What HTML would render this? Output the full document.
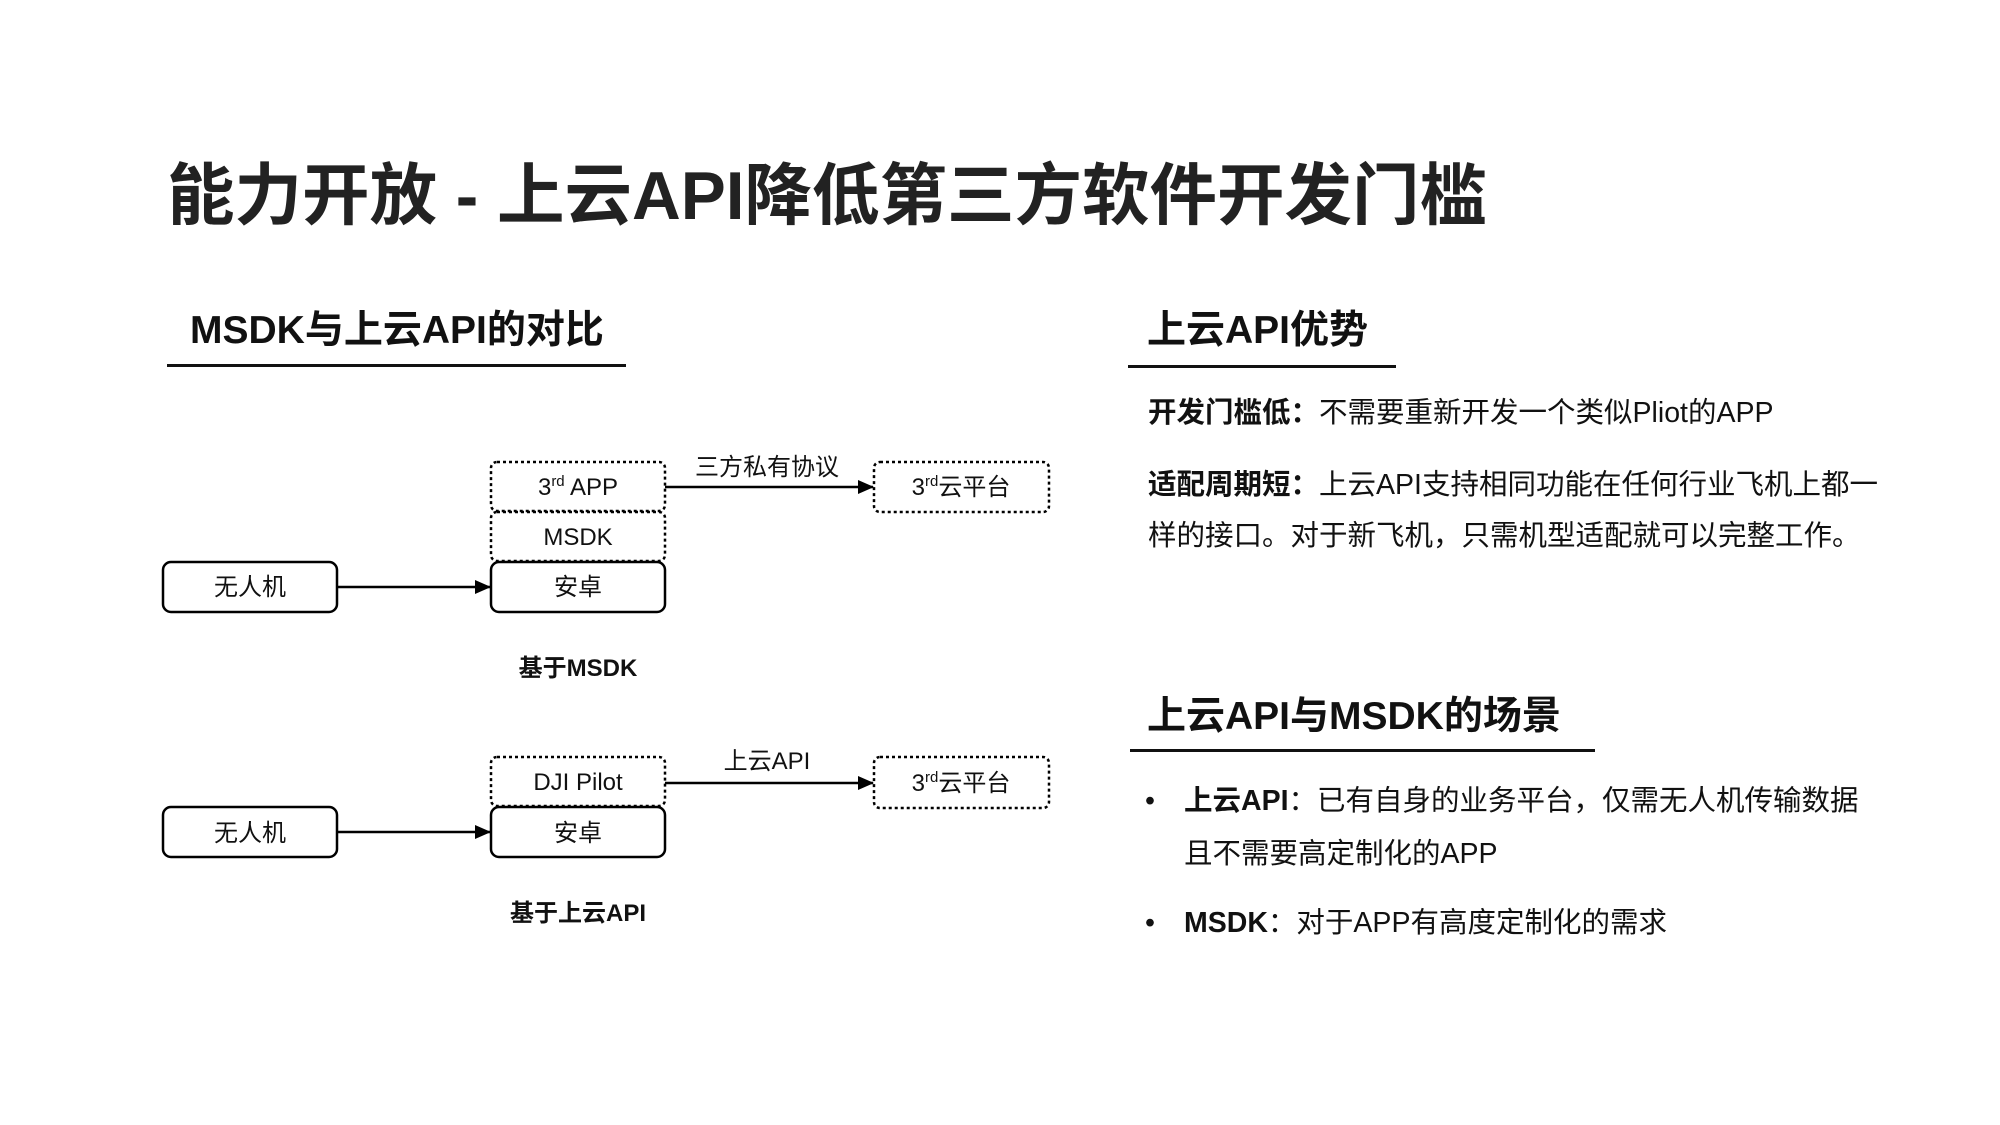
<!DOCTYPE html>
<html><head><meta charset="utf-8">
<style>
body{margin:0;width:2000px;height:1125px;background:#fff;position:relative;overflow:hidden;font-family:"Liberation Sans","Noto Sans CJK SC",sans-serif;color:#111}
.a{position:absolute;white-space:nowrap}
.h{font-weight:bold}
.ln{position:absolute;height:3px;background:#111}
.t{font-size:28.5px;line-height:28px}
</style></head><body>
<div class="a h" style="left:167px;top:158px;font-size:67.5px;line-height:78px;color:#222">能力开放 - 上云API降低第三方软件开发门槛</div>

<div class="a h" style="left:190px;top:309px;font-size:39px;line-height:44px">MSDK与上云API的对比</div>
<div class="ln" style="left:167px;top:364px;width:459px"></div>

<div class="a h" style="left:1147px;top:309px;font-size:39px;line-height:44px">上云API优势</div>
<div class="ln" style="left:1128px;top:365px;width:268px"></div>

<div class="a t" style="left:1148px;top:399px"><b>开发门槛低：</b>不需要重新开发一个类似Pliot的APP</div>
<div class="a t" style="left:1148px;top:471px"><b>适配周期短：</b>上云API支持相同功能在任何行业飞机上都一</div>
<div class="a t" style="left:1148px;top:522px">样的接口。对于新飞机，只需机型适配就可以完整工作。</div>

<div class="a h" style="left:1147px;top:695px;font-size:39px;line-height:44px">上云API与MSDK的场景</div>
<div class="ln" style="left:1130px;top:749px;width:465px"></div>

<div class="a t" style="left:1145px;top:787px">•</div>
<div class="a t" style="left:1184px;top:787px"><b>上云API</b>：已有自身的业务平台，仅需无人机传输数据</div>
<div class="a t" style="left:1184px;top:840px">且不需要高定制化的APP</div>
<div class="a t" style="left:1145px;top:909px">•</div>
<div class="a t" style="left:1184px;top:909px"><b>MSDK</b>：对于APP有高度定制化的需求</div>

<svg width="2000" height="1125" style="position:absolute;left:0;top:0" font-family="Liberation Sans, Noto Sans CJK SC, sans-serif" font-size="24" text-anchor="middle">
<defs><marker id="m" markerWidth="16" markerHeight="16" refX="15" refY="8" orient="auto" markerUnits="userSpaceOnUse"><path d="M0,1 L16,8 L0,15 z" fill="#000"/></marker></defs>
<g transform="translate(-3,-2)">
<g fill="none" stroke="#000" stroke-width="2.5">
<rect x="494" y="464" width="174" height="49" rx="6" stroke-dasharray="3,3"/>
<rect x="494" y="514" width="174" height="49" rx="6" stroke-dasharray="3,3"/>
<rect x="494" y="564" width="174" height="50" rx="8"/>
<rect x="166" y="564" width="174" height="50" rx="8"/>
<rect x="877" y="464" width="175" height="50" rx="6" stroke-dasharray="3,3"/>
<line x1="340" y1="589" x2="493" y2="589" marker-end="url(#m)"/>
<line x1="668" y1="489" x2="876" y2="489" marker-end="url(#m)"/>
<rect x="494" y="759" width="174" height="49" rx="6" stroke-dasharray="3,3"/>
<rect x="494" y="809" width="174" height="50" rx="8"/>
<rect x="166" y="809" width="174" height="50" rx="8"/>
<rect x="877" y="759" width="175" height="51" rx="6" stroke-dasharray="3,3"/>
<line x1="340" y1="834" x2="493" y2="834" marker-end="url(#m)"/>
<line x1="668" y1="785" x2="876" y2="785" marker-end="url(#m)"/>
</g>
<g fill="#111">
<text x="581" y="497">3<tspan font-size="15" dy="-9">rd</tspan><tspan dy="9"> APP</tspan></text>
<text x="581" y="547">MSDK</text>
<text x="581" y="597">安卓</text>
<text x="253" y="597">无人机</text>
<text x="964" y="497">3<tspan font-size="15" dy="-9">rd</tspan><tspan dy="9">云平台</tspan></text>
<text x="770" y="477">三方私有协议</text>
<text x="581" y="678" font-weight="bold" font-size="24">基于MSDK</text>
<text x="581" y="792">DJI Pilot</text>
<text x="581" y="843">安卓</text>
<text x="253" y="843">无人机</text>
<text x="964" y="793">3<tspan font-size="15" dy="-9">rd</tspan><tspan dy="9">云平台</tspan></text>
<text x="770" y="771">上云API</text>
<text x="581" y="923" font-weight="bold" font-size="24">基于上云API</text>
</g>
</g>
</svg>
</body></html>
